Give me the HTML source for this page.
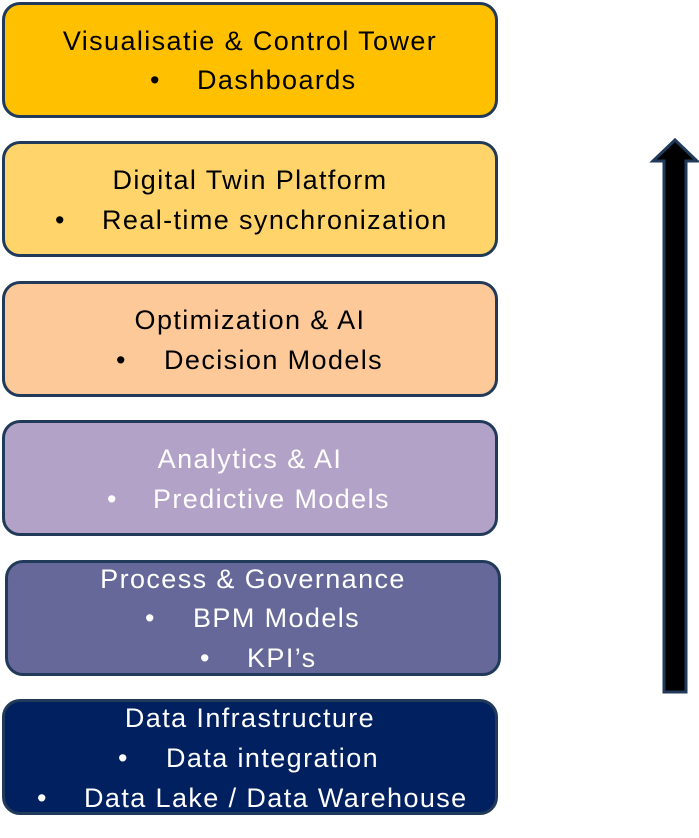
<!DOCTYPE html>
<html><head><style>
body{margin:0;width:699px;height:838px;background:#fff;position:relative;font-family:"Liberation Sans",sans-serif;overflow:hidden}
.b{position:absolute;left:2px;width:490px;height:110px;border:3px solid #213a59;border-radius:18px}
.t{position:absolute;font-size:27px;line-height:30px;white-space:nowrap;letter-spacing:1.4px}
.c{left:0;width:500px;text-align:center}
.w{color:#fff}
</style></head><body>
<div class="b" style="top:2px;background:#ffc000"></div>
<div class="b" style="top:141px;background:#ffd56b"></div>
<div class="b" style="top:281px;background:#fdc999"></div>
<div class="b" style="top:420px;background:#b3a2c7"></div>
<div class="b" style="top:560px;left:5px;background:#666899"></div>
<div class="b" style="top:699px;background:#002060"></div>

<div class="t c" style="top:26px">Visualisatie &amp; Control Tower</div>
<div class="t" style="top:65px;left:150px">•</div><div class="t" style="top:65px;left:197px">Dashboards</div>

<div class="t c" style="top:165px">Digital Twin Platform</div>
<div class="t" style="top:205px;left:55px">•</div><div class="t" style="top:205px;left:102px">Real-time synchronization</div>

<div class="t c" style="top:305px">Optimization &amp; AI</div>
<div class="t" style="top:345px;left:116px">•</div><div class="t" style="top:345px;left:164px">Decision Models</div>

<div class="t c w" style="top:444px">Analytics &amp; AI</div>
<div class="t w" style="top:484px;left:107px">•</div><div class="t w" style="top:484px;left:153px">Predictive Models</div>

<div class="t c w" style="top:564px;left:3px">Process &amp; Governance</div>
<div class="t w" style="top:603px;left:145px">•</div><div class="t w" style="top:603px;left:193px">BPM Models</div>
<div class="t w" style="top:643px;left:200px">•</div><div class="t w" style="top:643px;left:247px">KPI’s</div>

<div class="t c w" style="top:703px">Data Infrastructure</div>
<div class="t w" style="top:743px;left:118px">•</div><div class="t w" style="top:743px;left:166px">Data integration</div>
<div class="t w" style="top:783px;left:37px">•</div><div class="t w" style="top:783px;left:84px">Data Lake / Data Warehouse</div>

<svg style="position:absolute;left:0;top:0" width="699" height="838">
<polygon points="675,140 697,161 686,161 686,692 664,692 664,161 653,161" fill="#000" stroke="#213a59" stroke-width="3"/>
</svg>
</body></html>
